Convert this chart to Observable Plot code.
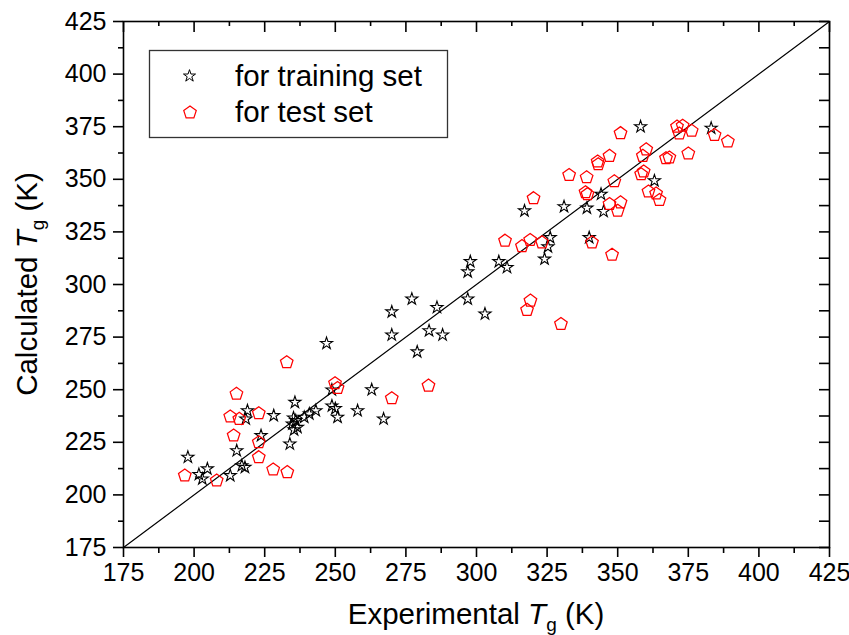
<!DOCTYPE html>
<html><head><meta charset="utf-8">
<script src="https://cdn.jsdelivr.net/npm/d3@7"></script>
<script src="https://cdn.jsdelivr.net/npm/@observablehq/plot@0.6"></script>
<style>body{margin:0;background:#fff} svg{display:block}</style>
</head><body><div id="chart"></div>
<script>
// [experimental Tg, calculated Tg]
const trainingSet = [
  [197.8,217.9],[201.7,209.7],[202.9,207.6],[204.7,212.4],[212.8,209.2],[215.1,221],[216.9,213.9],[218.0,213.1],
  [218.9,240],[218.3,236.1],[223.7,228.2],[228.2,237.7],[233.9,224.2],[235.7,244],[235.2,236.6],[236.0,235.3],
  [234.8,233.7],[236.6,232.1],[235.4,230.9],[239.0,236.9],[240.8,238.5],[243.1,240],[246.9,272],[248.8,249.9],
  [248.8,242.3],[250.0,241],[250.8,236.9],[257.9,240],[262.9,250],[267.1,236.1],[270.0,276],[270.0,287],
  [277.1,293.1],[279.0,268],[283.2,278],[286.0,289.1],[288.0,276],[296.9,293.1],[296.9,306],[297.8,310.9],
  [303.0,286],[307.9,310.9],[310.8,308.1],[317.0,335],[324.1,312.1],[325.3,317.9],[326.1,322.3],[331.0,337],
  [339.1,336.3],[339.9,322.3],[344.1,342.9],[345.0,334.7],[358.1,375],[363.0,349.3],[383.1,374.3]
];
const testSet = [
  [196.7,209.2],[208.0,206.8],[212.8,237.2],[214.0,228.2],[215.0,248],[216.0,236.1],[222.9,238.8],[222.9,225],
  [222.9,217.9],[228.0,212],[232.8,263],[233.0,210.8],[249.9,253],[250.8,250.8],[270.0,245.9],[283.0,251.9],
  [310.1,320.8],[316.1,318.2],[319.0,321.1],[317.9,287.9],[319.1,292.3],[320.2,341],[323.2,320],[329.9,281.2],
  [332.8,352],[339.0,350.9],[338.6,343.8],[339.3,342.9],[340.9,320],[342.9,358.4],[343.1,357.1],[347.1,361.1],
  [347.1,338.2],[348.0,314.1],[348.8,349],[350.0,335],[351.0,339],[351.0,371.9],[358.3,352.4],[359.2,353.7],
  [358.9,361.1],[360.1,364.2],[360.9,344.2],[363.6,343.2],[364.8,340.1],[367.1,360],[368.3,360.3],[371.0,375],
  [373.0,375.4],[371.8,371.7],[376.2,373],[375.0,362.2],[384.3,371],[389.0,367.9]
];
const axisDomain = [175, 425];
const diagonal = [175, 425];
const majorTicks = [175,200,225,250,275,300,325,350,375,400,425];
const minorTicks = [187.5,212.5,237.5,262.5,287.5,312.5,337.5,362.5,387.5,412.5];
const legendLabels = ["for training set", "for test set"];

const W = 849, H = 635;
const mL = 123, mR = 20, mT = 21, mB = 88;
const innerW = W - mL - mR, innerH = H - mT - mB;

const pentagon = {
  draw(context, size) {
    const R = Math.sqrt(size / Math.PI) * 1.5;
    for (let i = 0; i < 5; i++) {
      const a = -Math.PI / 2 + i * 2 * Math.PI / 5;
      const x = R * Math.cos(a), y = R * Math.sin(a);
      if (i) context.lineTo(x, y); else context.moveTo(x, y);
    }
    context.closePath();
  }
};
const starR = 3.8, pentR = 4.4;

const svg = Plot.plot({
  width: W, height: H,
  marginLeft: mL, marginRight: mR, marginTop: mT, marginBottom: mB,
  x: {domain: axisDomain},
  y: {domain: axisDomain},
  style: {fontFamily: "'Liberation Sans', Arial, sans-serif", fontSize: "25px", color: "#000", background: "#fff", overflow: "visible"},
  marks: [
    Plot.line(diagonal, {x: d => d, y: d => d, stroke: "#000", strokeWidth: 1.2}),
    Plot.dot(trainingSet, {x: d => d[0], y: d => d[1], symbol: "star", r: starR, stroke: "#000", strokeWidth: 1.1, fill: "none"}),
    Plot.dot(testSet, {x: d => d[0], y: d => d[1], symbol: pentagon, r: pentR, stroke: "#ff0000", strokeWidth: 1.25, fill: "none"}),
    Plot.frame({stroke: "#000", strokeWidth: 1.6}),
    Plot.axisX({ticks: majorTicks, anchor: "bottom", tickSize: 10, tickPadding: 6, strokeWidth: 1.6, label: null, tickFormat: d => d}),
    Plot.axisX({ticks: minorTicks, anchor: "bottom", tickSize: 6, strokeWidth: 1.6, label: null, tickFormat: () => ""}),
    Plot.axisY({ticks: majorTicks, anchor: "left", tickSize: 10, tickPadding: 7, strokeWidth: 1.6, label: null, tickFormat: d => d}),
    Plot.axisY({ticks: minorTicks, anchor: "left", tickSize: 5, strokeWidth: 1.6, label: null, tickFormat: () => ""}),
    Plot.tickX(majorTicks, {x: d => d, insetBottom: innerH - 11, strokeWidth: 1.6}),
    Plot.tickX(minorTicks, {x: d => d, insetBottom: innerH - 5, strokeWidth: 1.6}),
    Plot.tickY(majorTicks, {y: d => d, insetLeft: innerW - 10, strokeWidth: 1.6}),
    Plot.tickY(minorTicks, {y: d => d, insetLeft: innerW - 10, strokeWidth: 1.6})
  ]
});
document.getElementById("chart").appendChild(svg);

const s = d3.select(svg);
const font = "'Liberation Sans', Arial, sans-serif";

// x axis title
const xt = s.append("text").attr("x", mL + innerW / 2).attr("y", 624)
  .attr("text-anchor", "middle").attr("font-family", font).attr("font-size", 29.5).attr("fill", "#000");
xt.append("tspan").text("Experimental ");
xt.append("tspan").attr("font-style", "italic").text("T");
xt.append("tspan").attr("font-size", 19).attr("dy", 7).text("g");
xt.append("tspan").attr("dy", -7).text(" (K)");

// y axis title
const yt = s.append("text").attr("transform", `translate(37,${mT + innerH / 2}) rotate(-90)`)
  .attr("text-anchor", "middle").attr("font-family", font).attr("font-size", 29.5).attr("fill", "#000");
yt.append("tspan").text("Calculated ");
yt.append("tspan").attr("font-style", "italic").text("T");
yt.append("tspan").attr("font-size", 19).attr("dy", 7).text("g");
yt.append("tspan").attr("dy", -7).text(" (K)");

// legend
const lg = s.append("g");
lg.append("rect").attr("x", 149.5).attr("y", 50.5).attr("width", 298).attr("height", 87)
  .attr("fill", "#fff").attr("stroke", "#333").attr("stroke-width", 1.3);
lg.append("path").attr("transform", "translate(189.5,76)")
  .attr("d", d3.symbol(d3.symbolStar, Math.PI * starR * starR)())
  .attr("fill", "none").attr("stroke", "#000").attr("stroke-width", 1);
lg.append("path").attr("transform", "translate(190,112.5)")
  .attr("d", d3.symbol(pentagon, Math.PI * pentR * pentR)())
  .attr("fill", "none").attr("stroke", "#ff0000").attr("stroke-width", 1.2);
legendLabels.forEach((t, i) => {
  lg.append("text").attr("x", 235).attr("y", 86 + i * 35.5).attr("text-anchor", "start")
    .attr("font-family", font).attr("font-size", 29.5).attr("fill", "#000").text(t);
});
</script>
</body></html>
